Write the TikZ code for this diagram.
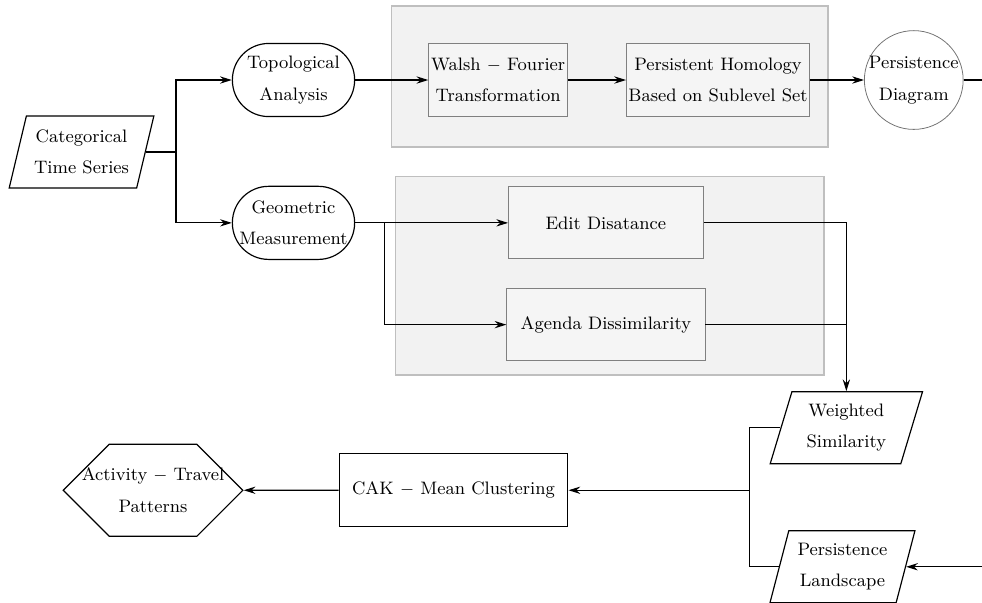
\documentclass[tikz,border=0pt]{standalone}
\usetikzlibrary{positioning, arrows.meta, shapes.geometric, shapes.symbols, fit, calc, backgrounds}

\begin{document}
\begin{tikzpicture}[
        font=\fontsize{9.2}{16}\selectfont,
        D/.style = {draw=black, line width=0.6pt, trapezium, trapezium left angle=71.6, trapezium right angle=108.4, trapezium stretches=true, minimum width=2.6cm, minimum height=1.29cm, inner sep=0pt, align=center},
        T/.style = {draw=black, line width=0.6pt, rounded corners=0.65cm, minimum width=2.19cm, minimum height=1.31cm, inner sep=0pt, align=center},
        P/.style = {draw=black!50, fill=black!4, minimum height=1.31cm, inner xsep=0.5pt, inner ysep=2pt, align=center},
        R/.style = {draw=black, line width=0.6pt, minimum width=4.1cm, minimum height=1.31cm, align=center},
        C/.style = {draw=black!55, circle, minimum size=1.77cm, inner sep=-3pt, align=center},
        H/.style = {draw=black, line width=0.6pt, signal, signal to=west and east, signal pointer angle=90, minimum height=1.65cm, inner xsep=-14pt, inner ysep=0pt, align=center},
        B/.style = {draw=black!25, fill=black!5, line width=0.8pt, inner sep=0pt},
        arrow/.style = {-{Stealth[length=2.1mm, width=1.3mm]}, line width=0.6pt},
        line/.style = {line width=0.6pt}
    ]

        \useasboundingbox (-1.461,2.724) rectangle (16.137,-8.082);

        \node[D] (cat) {Categorical\\Time Series};

        \node[T, right=1.54cm of cat, yshift=1.29cm] (topo) {Topological\\Analysis};
        \node[T, right=1.54cm of cat, yshift=-1.27cm] (geo) {Geometric\\Measurement};

        \node[P, right=1.31cm of topo, minimum width=2.49cm] (walsh) {Walsh $-$ Fourier\\Transformation};
        \node[P, right=1.04cm of walsh, minimum width=3.28cm] (ph) {Persistent Homology\\Based on Sublevel Set};
        \node[C, right=0.97cm of ph] (pd) {Persistence\\Diagram};

        \node[P, right=2.74cm of geo, minimum width=3.49cm, minimum height=1.29cm] (edit) {Edit Disatance};
        \node[P, below=0.52cm of edit, minimum width=3.55cm, minimum height=1.29cm] (agenda) {Agenda Dissimilarity};

        \node[D, below=0.54cm of agenda, xshift=4.31cm, minimum width=2.74cm] (ws) {Weighted\\Similarity};
        \node[D, below=1.18cm of ws, xshift=-0.07cm] (pl) {Persistence\\Landscape};

        \node[R, below=1.65cm of agenda, xshift=-2.73cm] (cak) {CAK $-$ Mean Clustering};
        \node[H, left=1.7cm of cak] (atp) {Activity $-$ Travel\\Patterns};

        \begin{scope}[on background layer]
            \node[B, fit={($(walsh.north west)+(-0.66,0.66)$) ($(ph.south east)+(0.32,-0.54)$)}] (tbox) {};
            \node[B, fit={($(edit.north -| agenda.west)+(-1.99,0.18)$) ($(agenda.south east)+(2.13,-0.25)$)}] (gbox) {};
        \end{scope}

        \coordinate (split) at ($(cat.east)+(0.54,0)$);
        \coordinate (gsplit) at ($(geo.east)+(0.52,0)$);
        \coordinate (merge) at ($(ws.west)+(-0.55,0)$);
        \coordinate (turn) at ($(pd.east)+(1cm,0)$);

        \draw[line] (cat.east) -- (split);
        \draw[arrow] (split) |- (topo.west);
        \draw[arrow] (split) |- (geo.west);

        \draw[arrow] (topo) -> (walsh);
        \draw[arrow] (walsh) -> (ph);
        \draw[arrow] (ph) -> (pd);

        \draw[arrow] (geo.east) -> (edit.west);
        \draw[arrow] (gsplit) |- (agenda.west);

        \draw[arrow] (edit.east) -| (ws.north);
        \draw[line] (agenda.east) -- (agenda.east -| ws.north);

        \draw[line] (ws.west) -- (merge) |- (pl.west);
        \draw[arrow] (merge |- cak.east) -> (cak.east);
        \draw[arrow] (cak) -> (atp);

        \draw[arrow] (pd.east) -- (turn) |- (pl.east);

    \end{tikzpicture}
\end{document}
